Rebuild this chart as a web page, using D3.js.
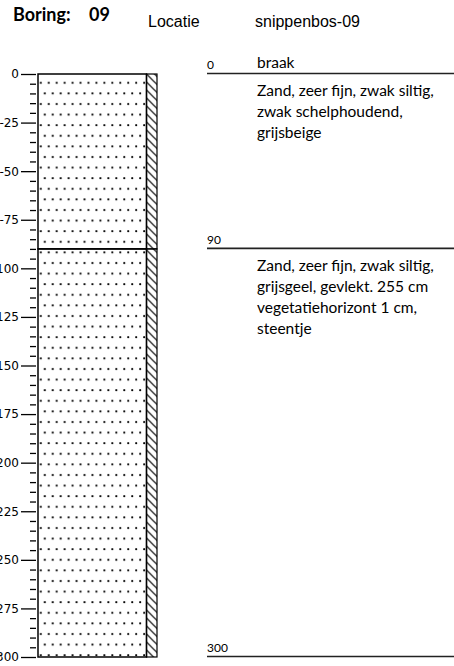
<!DOCTYPE html>
<html>
<head>
<meta charset="utf-8">
<script src="https://cdn.jsdelivr.net/npm/d3@7"></script>
<style>
  body { margin: 0; background: #fff; }
  svg { display: block; }
</style>
</head>
<body>
<svg id="chart" width="454" height="666"></svg>
<script>
// boring info
const boringNr = '09'
const locatie = 'snippenbos-09'

// layers (depth in cm)
const layerTop = [0, 90]
const layerBottom = [90, 300]
const layerName = ['braak', '']
const layerText = [
  ['Zand, zeer fijn, zwak siltig,', 'zwak schelphoudend,', 'grijsbeige'],
  ['Zand, zeer fijn, zwak siltig,', 'grijsgeel, gevlekt. 255 cm', 'vegetatiehorizont 1 cm,', 'steentje']
]
const depthLabels = [0, 90, 300]
const maxDepth = 300

const svg = d3.select('#chart')
const calibri = 'Lato, "Open Sans", sans-serif'

const yScale = d3.scaleLinear()
  .domain([0, maxDepth])
  .range([74, 657])

const colLeft = 38
const colRight = 146.5
const hatchRight = 157

// patterns
const defs = svg.append('defs')
const dots = defs.append('pattern')
  .attr('id', 'dots')
  .attr('patternUnits', 'userSpaceOnUse')
  .attr('x', 39.7).attr('y', 81.7)
  .attr('width', 7.95).attr('height', 21.2)
dots.append('circle').attr('cx', 1.1).attr('cy', 1.1).attr('r', 1.05).attr('fill', '#000')
dots.append('circle').attr('cx', 5.1).attr('cy', 11.7).attr('r', 1.05).attr('fill', '#000')

const hatch = defs.append('pattern')
  .attr('id', 'hatch')
  .attr('patternUnits', 'userSpaceOnUse')
  .attr('x', colRight).attr('y', yScale(0))
  .attr('width', 8).attr('height', 8)
hatch.append('path')
  .attr('d', 'M-2,-2L10,10M-2,6L2,10M6,-2L10,2')
  .attr('stroke', '#000')
  .attr('stroke-width', 1.2)

// header
svg.append('text').attr('x', 13).attr('y', 21)
  .style('font-family', calibri).style('font-weight', 'bold').style('font-size', '18px')
  .text('Boring:')
svg.append('text').attr('x', 89).attr('y', 21)
  .style('font-family', calibri).style('font-weight', 'bold').style('font-size', '18px')
  .text(boringNr)
svg.append('text').attr('x', 148).attr('y', 27)
  .style('font-family', '"Liberation Sans", Arial, sans-serif').style('font-size', '16px')
  .text('Locatie')
svg.append('text').attr('x', 255).attr('y', 27)
  .style('font-family', '"Liberation Sans", Arial, sans-serif').style('font-size', '16px')
  .text(locatie)

// left axis
const ticks = d3.range(0, maxDepth + 1, 5)
const yAxis = d3.axisLeft(yScale)
  .tickValues(ticks)
  .tickSize(15)
  .tickPadding(2)
  .tickFormat(d => d % 25 === 0 ? (d === 0 ? '0' : '-' + d) : '')

const axisG = svg.append('g')
  .attr('transform', `translate(36, 0)`)
  .call(yAxis)

axisG.select('path.domain').remove()
axisG.selectAll('.tick line')
  .attr('x2', d => d % 25 === 0 ? -15 : -6)
  .attr('stroke', '#000')
  .attr('stroke-width', 1.3)
axisG.selectAll('.tick text')
  .style('font-family', '"DejaVu Sans", sans-serif')
  .style('font-size', '12px')
  .attr('fill', '#000')

// column
const layers = layerTop.map((t, i) => ({ top: t, bottom: layerBottom[i] }))

svg.selectAll('.soil')
  .data(layers)
  .enter()
  .append('rect')
  .attr('class', 'soil')
  .attr('x', colLeft)
  .attr('y', d => yScale(d.top))
  .attr('width', colRight - colLeft)
  .attr('height', d => yScale(d.bottom) - yScale(d.top))
  .attr('fill', 'url(#dots)')
  .attr('stroke', '#000')
  .attr('stroke-width', 1.5)

svg.selectAll('.hatch')
  .data(layers)
  .enter()
  .append('rect')
  .attr('class', 'hatch')
  .attr('x', colRight)
  .attr('y', d => yScale(d.top))
  .attr('width', hatchRight - colRight)
  .attr('height', d => yScale(d.bottom) - yScale(d.top))
  .attr('fill', 'url(#hatch)')
  .attr('stroke', '#000')
  .attr('stroke-width', 1.2)

// right side: depth lines and descriptions
svg.selectAll('.dline')
  .data(depthLabels)
  .enter()
  .append('line')
  .attr('x1', 207).attr('x2', 454)
  .attr('y1', d => yScale(d) - 0.5).attr('y2', d => yScale(d) - 0.5)
  .attr('stroke', '#222')
  .attr('stroke-width', 1.6)

svg.selectAll('.dlabel')
  .data(depthLabels)
  .enter()
  .append('text')
  .attr('x', 207)
  .attr('y', d => yScale(d) - 5)
  .style('font-family', calibri)
  .style('font-size', '12px')
  .text(d => d)

svg.selectAll('.lname')
  .data(layers)
  .enter()
  .append('text')
  .attr('x', 257)
  .attr('y', d => yScale(d.top) - 6)
  .style('font-family', calibri)
  .style('font-size', '15.5px')
  .text((d, i) => layerName[i])

layers.forEach((l, i) => {
  svg.append('text')
    .attr('x', 257)
    .attr('y', yScale(l.top) + 22)
    .style('font-family', calibri)
    .style('font-size', '15.5px')
    .selectAll('tspan')
    .data(layerText[i])
    .enter()
    .append('tspan')
    .attr('x', 257)
    .attr('dy', (d, j) => j === 0 ? 0 : 21)
    .text(d => d)
})
</script>
</body>
</html>
